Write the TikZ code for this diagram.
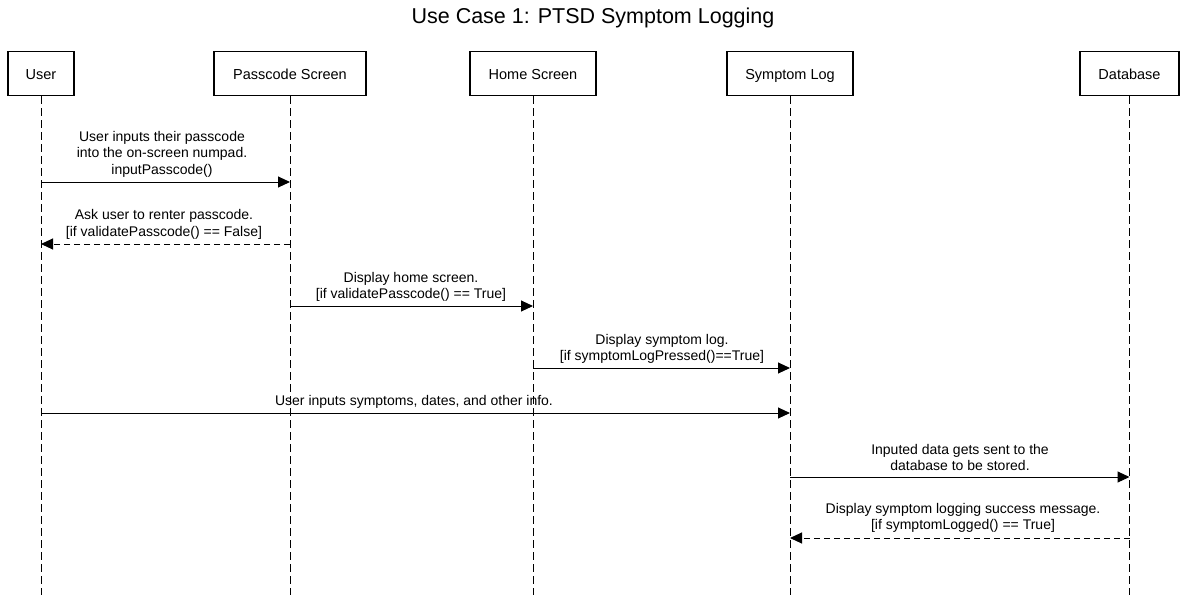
\documentclass[tikz,border=0pt]{standalone}
\usepackage{fontspec}
\setmainfont{Liberation Sans}
\usetikzlibrary{arrows.meta}
\begin{document}
\begin{tikzpicture}[x=1pt,y=-1pt,
  actor/.style={draw,line width=1.6pt,minimum height=44pt,inner sep=0pt,text height=1.15em,text depth=0pt,font=\fontsize{14.5}{17}\selectfont},
  life/.style={line width=1pt,dash pattern=on 8pt off 4pt},
  msg/.style={line width=1pt,-{Triangle[length=12pt,width=11pt]}},
  ret/.style={msg,dash pattern=on 6pt off 4pt},
  lbl/.style={align=center,font=\fontsize{14}{16.5}\selectfont,inner sep=0pt}]
\useasboundingbox (0,0) rectangle (1186,595);
\node[font=\fontsize{21.5}{25}\selectfont] (title) at (593,18) {Use Case 1: PTSD Symptom Logging};
\node[actor,minimum width=66pt] (user) at (41,73.5) {User};
\node[actor,minimum width=152pt] (pass) at (290,73.5) {Passcode Screen};
\node[actor,minimum width=126pt] (home) at (533,73.5) {Home Screen};
\node[actor,minimum width=126pt] (sym) at (790,73.5) {Symptom Log};
\node[actor,minimum width=99pt] (db) at (1129.5,73.5) {Database};
\foreach \n in {user,pass,home,sym,db}{
  \coordinate (\n-end) at (\n |- 0,595);
  \draw[life] (\n.south) -- (\n-end);
}
% messages
\draw[msg] (user |- 0,182) -- (pass |- 0,182);
\node[lbl] (l1) at (162,154) {User inputs their passcode\\into the on-screen numpad.\\inputPasscode()};
\draw[ret] (pass |- 0,244) -- (user |- 0,244);
\node[lbl] (l2) at (164,224.5) {Ask user to renter passcode.\\{}[if validatePasscode() == False]};
\draw[msg] (pass |- 0,306) -- (home |- 0,306);
\node[lbl] (l3) at (411,287) {Display home screen.\\{}[if validatePasscode() == True]};
\draw[msg] (home |- 0,368) -- (sym |- 0,368);
\node[lbl] (l4) at (662,349) {Display symptom log.\\{}[if symptomLogPressed()==True]};
\draw[msg] (user |- 0,413) -- (sym |- 0,413);
\node[lbl] (l5) at (414,401.5) {User inputs symptoms, dates, and other info.};
\draw[msg] (sym |- 0,477) -- (db |- 0,477);
\node[lbl] (l6) at (960,457.5) {Inputed data gets sent to the\\database to be stored.};
\draw[ret] (db |- 0,538) -- (sym |- 0,538);
\node[lbl] (l7) at (963,518) {Display symptom logging success message.\\{}[if symptomLogged() == True]};
\end{tikzpicture}
\end{document}
